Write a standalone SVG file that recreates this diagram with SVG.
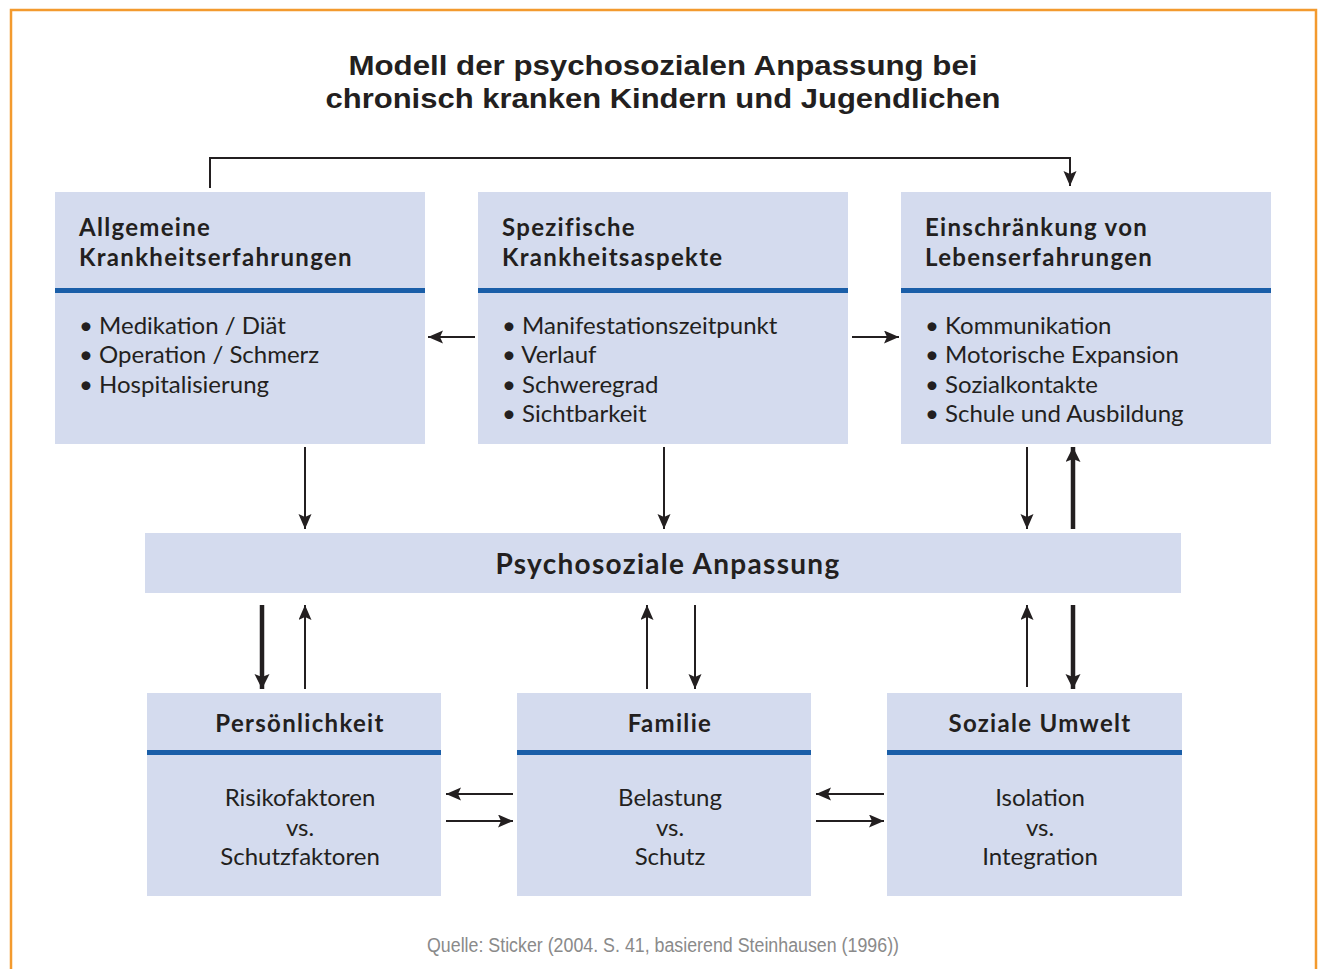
<svg xmlns="http://www.w3.org/2000/svg" width="1321" height="969" viewBox="0 0 1321 969">
<defs>
<marker id="ah" markerUnits="userSpaceOnUse" markerWidth="16" markerHeight="14" refX="15" refY="6.5" orient="auto">
<path d="M0,0 L15,6.5 L0,13 L3,6.5 z" fill="#231f20"/>
</marker>
<marker id="ahb" markerUnits="userSpaceOnUse" markerWidth="16" markerHeight="16" refX="15" refY="7.5" orient="auto">
<path d="M0,0 L15,7.5 L0,15 L3,7.5 z" fill="#231f20"/>
</marker>
</defs>
<style>
.box{fill:#d4dbee}
.bar{fill:#1a5ea8}
.tt{font-family:"Liberation Sans",Arial,sans-serif;font-weight:bold;fill:#231f20}
.hd{font-family:Lato,"Liberation Sans",sans-serif;font-weight:bold;fill:#231f20;letter-spacing:1.3px}
.bd{font-family:Lato,"Liberation Sans",sans-serif;fill:#231f20}
.thin{stroke:#231f20;stroke-width:2;fill:none;marker-end:url(#ah)}
.thick{stroke:#231f20;stroke-width:4.5;fill:none;marker-end:url(#ahb)}
</style>
<rect x="0" y="0" width="1321" height="969" fill="#ffffff"/>
<path d="M11,975 L11,10 L1316,10 L1316,975" fill="none" stroke="#f39a2e" stroke-width="2.5"/>
<g id="title">
<text class="tt" x="663" y="75" font-size="28" text-anchor="middle" textLength="629" lengthAdjust="spacingAndGlyphs">Modell der psychosozialen Anpassung bei</text>
<text class="tt" x="663" y="108" font-size="28" text-anchor="middle" textLength="675" lengthAdjust="spacingAndGlyphs">chronisch kranken Kindern und Jugendlichen</text>
</g>
<g id="node-allgemeine">
<rect class="box" x="55" y="192" width="370" height="252"/>
<rect class="bar" x="55" y="288" width="370" height="5"/>
<text class="hd" x="79" y="236" font-size="24">Allgemeine</text>
<text class="hd" x="79" y="266" font-size="24">Krankheitserfahrungen</text>
<text class="bd" x="79" y="334" font-size="24">• Medikation / Diät</text>
<text class="bd" x="79" y="363" font-size="24">• Operation / Schmerz</text>
<text class="bd" x="79" y="393" font-size="24">• Hospitalisierung</text>
</g>
<g id="node-spezifische">
<rect class="box" x="478" y="192" width="370" height="252"/>
<rect class="bar" x="478" y="288" width="370" height="5"/>
<text class="hd" x="502" y="236" font-size="24">Spezifische</text>
<text class="hd" x="502" y="266" font-size="24">Krankheitsaspekte</text>
<text class="bd" x="502" y="334" font-size="24">• Manifestationszeitpunkt</text>
<text class="bd" x="502" y="363" font-size="24">• Verlauf</text>
<text class="bd" x="502" y="393" font-size="24">• Schweregrad</text>
<text class="bd" x="502" y="422" font-size="24">• Sichtbarkeit</text>
</g>
<g id="node-einschraenkung">
<rect class="box" x="901" y="192" width="370" height="252"/>
<rect class="bar" x="901" y="288" width="370" height="5"/>
<text class="hd" x="925" y="236" font-size="24">Einschränkung von</text>
<text class="hd" x="925" y="266" font-size="24">Lebenserfahrungen</text>
<text class="bd" x="925" y="334" font-size="24">• Kommunikation</text>
<text class="bd" x="925" y="363" font-size="24">• Motorische Expansion</text>
<text class="bd" x="925" y="393" font-size="24">• Sozialkontakte</text>
<text class="bd" x="925" y="422" font-size="24">• Schule und Ausbildung</text>
</g>
<g id="node-psychosoziale">
<rect class="box" x="145" y="533" width="1036" height="60"/>
<text class="hd" x="668" y="574" font-size="28" text-anchor="middle">Psychosoziale Anpassung</text>
</g>
<g id="node-persoenlichkeit">
<rect class="box" x="147" y="693" width="294" height="203"/>
<rect class="bar" x="147" y="750" width="294" height="5"/>
<text class="hd" x="300" y="732" font-size="24" text-anchor="middle">Persönlichkeit</text>
<text class="bd" x="300" y="806" font-size="24" text-anchor="middle">Risikofaktoren</text>
<text class="bd" x="300" y="836" font-size="24" text-anchor="middle">vs.</text>
<text class="bd" x="300" y="865" font-size="24" text-anchor="middle">Schutzfaktoren</text>
</g>
<g id="node-familie">
<rect class="box" x="517" y="693" width="294" height="203"/>
<rect class="bar" x="517" y="750" width="294" height="5"/>
<text class="hd" x="670" y="732" font-size="24" text-anchor="middle">Familie</text>
<text class="bd" x="670" y="806" font-size="24" text-anchor="middle">Belastung</text>
<text class="bd" x="670" y="836" font-size="24" text-anchor="middle">vs.</text>
<text class="bd" x="670" y="865" font-size="24" text-anchor="middle">Schutz</text>
</g>
<g id="node-soziale">
<rect class="box" x="887" y="693" width="295" height="203"/>
<rect class="bar" x="887" y="750" width="295" height="5"/>
<text class="hd" x="1040" y="732" font-size="24" text-anchor="middle">Soziale Umwelt</text>
<text class="bd" x="1040" y="806" font-size="24" text-anchor="middle">Isolation</text>
<text class="bd" x="1040" y="836" font-size="24" text-anchor="middle">vs.</text>
<text class="bd" x="1040" y="865" font-size="24" text-anchor="middle">Integration</text>
</g>
<g id="connectors">
<path class="thin" d="M210,188 L210,158 L1070,158 L1070,186"/>
<path class="thin" d="M475,337 L428,337"/>
<path class="thin" d="M852,337 L899,337"/>
<path class="thin" d="M305,447 L305,529"/>
<path class="thin" d="M664,447 L664,529"/>
<path class="thin" d="M1027,447 L1027,529"/>
<path class="thick" d="M1073,529 L1073,447"/>
<path class="thick" d="M262,605 L262,689"/>
<path class="thin" d="M305,689 L305,605"/>
<path class="thin" d="M647,689 L647,605"/>
<path class="thin" d="M695,605 L695,689"/>
<path class="thin" d="M1027,687 L1027,605"/>
<path class="thick" d="M1073,605 L1073,689"/>
<path class="thin" d="M513,794 L446,794"/>
<path class="thin" d="M446,821 L513,821"/>
<path class="thin" d="M884,794 L816,794"/>
<path class="thin" d="M816,821 L884,821"/>
</g>
<text x="663" y="952" font-family="'Liberation Sans Narrow','Liberation Sans',sans-serif" font-size="20" fill="#8a8a8a" text-anchor="middle" textLength="472" lengthAdjust="spacingAndGlyphs">Quelle: Sticker (2004. S. 41, basierend Steinhausen (1996))</text>
</svg>
